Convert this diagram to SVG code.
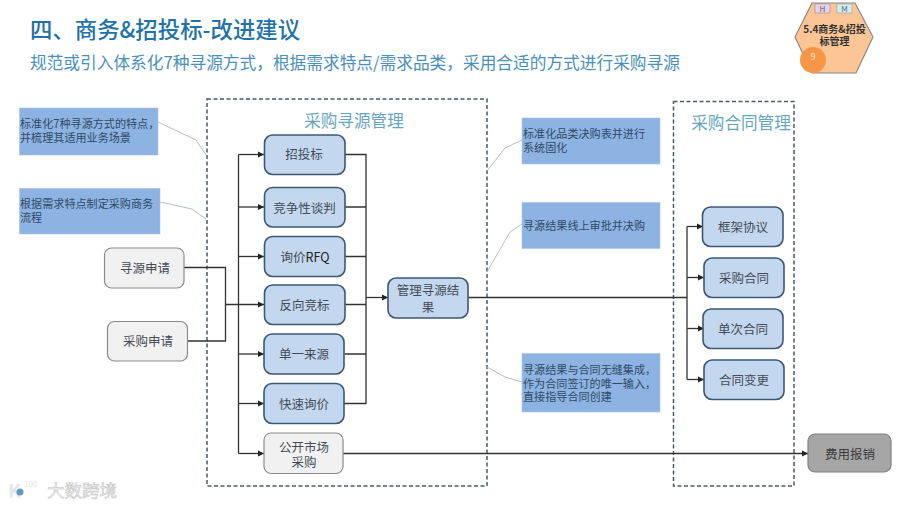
<svg xmlns="http://www.w3.org/2000/svg" width="900" height="507" viewBox="0 0 900 507">
<defs>
<marker id="arr" markerUnits="userSpaceOnUse" markerWidth="7" markerHeight="7" refX="6" refY="3.5" orient="auto"><path d="M0,0.5 L6,3.5 L0,6.5 Z" fill="#222"/></marker>
<style>
text{font-family:"Noto Sans CJK SC","Liberation Sans",sans-serif;}
.t{text-anchor:middle;dominant-baseline:central;font-size:12.5px;fill:#444c55;}
.blue rect{fill:#c3d7ee;stroke:#3e5874;stroke-width:1.6;}
.gray rect{fill:#f1f1f1;stroke:#8b8b8b;stroke-width:1.2;}
.note rect{fill:#8db3e2;stroke:#a8c4e6;stroke-width:.6;}
.note text{font-size:11.1px;fill:#2f4a66;}
.frame{fill:none;stroke:#4b5a68;stroke-width:1.5;stroke-dasharray:4 2.5;}
.head{font-size:16.6px;fill:#68a5bd;text-anchor:middle;dominant-baseline:central;}
.c{fill:none;stroke:#333;stroke-width:1.3;}
.a{marker-end:url(#arr);}
.l{fill:none;stroke:#b5c0c0;stroke-width:1;}
</style>
</defs>
<rect width="900" height="507" fill="#fff"/>
<text x="30" y="38" font-size="22.4" font-weight="500" fill="#2272a8">四、商务&amp;招投标-改进建议</text>
<text x="30" y="69" font-size="16.7" fill="#4a90b8">规范或引入体系化7种寻源方式&#xFF0C;根据需求特点/需求品类&#xFF0C;采用合适的方式进行采购寻源</text>

<g id="frame-sourcing"><rect class="frame" x="207" y="99" width="280" height="387"/><text class="head" x="354" y="120">采购寻源管理</text></g>
<g id="frame-contract"><rect class="frame" x="673.5" y="101.5" width="120.5" height="384.5"/><text class="head" x="741" y="121.5">采购合同管理</text></g>

<g id="connectors">
<path class="l" d="M158,122 L196,140 L206,155"/>
<path class="l" d="M160,202 L192,209 L206,219"/>
<path class="l" d="M522,140 L505,148 L487,171"/>
<path class="l" d="M522,224 L510,232 L487,272"/>
<path class="l" d="M487,367 L505,377 L522,382"/>
<path class="c" d="M184,267.5 H225.5 V341 H187.5"/>
<path class="c a" d="M225.5,304.5 H264"/>
<path class="c" d="M238.5,154.5 V453.5"/>
<path class="c a" d="M238.5,154.5 H264"/>
<path class="c a" d="M238.5,207 H264"/>
<path class="c a" d="M238.5,256.5 H264"/>
<path class="c a" d="M238.5,354 H264"/>
<path class="c a" d="M238.5,403.5 H264"/>
<path class="c a" d="M238.5,453.5 H264"/>
<path class="c" d="M345,154.5 H366 V403.5 H344"/>
<path class="c" d="M345,207 H366 M345,256.5 H366 M345,304.5 H366 M345,354 H366"/>
<path class="c a" d="M366,297.5 H388"/>
<path class="c" d="M468,297.5 H687" stroke-width="1.6"/>
<path class="c" d="M687,226.5 V379.5"/>
<path class="c a" d="M687,226.5 H703"/>
<path class="c a" d="M687,277.5 H704"/>
<path class="c a" d="M687,328.5 H704"/>
<path class="c a" d="M687,379.5 H704"/>
<path class="c a" d="M343,453.5 H808"/>
</g>

<g id="note-1" class="note"><rect x="19.5" y="108" width="138.5" height="47"/><text x="20" y="128">标准化7种寻源方式的特点&#xFF0C;<tspan x="20" dy="14">并梳理其适用业务场景</tspan></text></g>
<g id="note-2" class="note"><rect x="19.5" y="188.5" width="140.5" height="45.5"/><text x="20" y="208">根据需求特点制定采购商务<tspan x="20" dy="13.5">流程</tspan></text></g>
<g id="note-3" class="note"><rect x="522" y="118" width="138" height="46"/><text x="523" y="138">标准化品类决购表并进行<tspan x="523" dy="14">系统固化</tspan></text></g>
<g id="note-4" class="note"><rect x="522" y="202.5" width="138" height="46"/><text x="523" y="230">寻源结果线上审批并决购</text></g>
<g id="note-5" class="note"><rect x="522" y="353.5" width="138" height="58.5"/><text x="523" y="374">寻源结果与合同无缝集成&#xFF0C;<tspan x="523" dy="13.5">作为合同签订的唯一输入&#xFF0C;</tspan><tspan x="523" dy="13.5">直接指导合同创建</tspan></text></g>

<g id="n-xunyuan" class="gray"><rect x="104.5" y="248" width="79.5" height="40" rx="7"/><text class="t" x="145" y="267">寻源申请</text></g>
<g id="n-caigou" class="gray"><rect x="107.5" y="321.5" width="80" height="39.5" rx="7"/><text class="t" x="148" y="340.5">采购申请</text></g>

<g id="n-zhaotoubiao" class="blue"><rect x="264.5" y="135" width="80.5" height="39.5" rx="8"/><text class="t" x="304" y="153.5">招投标</text></g>
<g id="n-jingzheng" class="blue"><rect x="264.5" y="187.5" width="80.5" height="39.5" rx="8"/><text class="t" x="304.5" y="207">竞争性谈判</text></g>
<g id="n-xunjia" class="blue"><rect x="264.5" y="236.5" width="80.5" height="40" rx="8"/><text class="t" x="305" y="256">询价<tspan style="fill:#222">RFQ</tspan></text></g>
<g id="n-fanxiang" class="blue"><rect x="264.5" y="285" width="80.5" height="39.5" rx="8"/><text class="t" x="304.5" y="304">反向竞标</text></g>
<g id="n-danyi" class="blue"><rect x="264" y="334" width="80" height="40" rx="8"/><text class="t" x="304" y="353.5">单一来源</text></g>
<g id="n-kuaisu" class="blue"><rect x="264" y="383.5" width="80" height="40" rx="8"/><text class="t" x="304" y="403">快速询价</text></g>
<g id="n-gongkai" class="gray"><rect x="264" y="433" width="79" height="40.5" rx="7"/><text class="t" x="304" y="446">公开市场<tspan x="304" dy="15">采购</tspan></text></g>
<g id="n-guanli" class="blue"><rect x="388" y="278" width="80" height="40" rx="8"/><text class="t" x="428" y="289.5">管理寻源结<tspan x="428" dy="16">果</tspan></text></g>

<g id="n-kuangjia" class="blue"><rect x="702.5" y="207" width="80.5" height="39.5" rx="8"/><text class="t" x="743" y="226">框架协议</text></g>
<g id="n-caigouhetong" class="blue"><rect x="704" y="258" width="80" height="39.5" rx="8"/><text class="t" x="744" y="277">采购合同</text></g>
<g id="n-danci" class="blue"><rect x="703" y="309" width="80" height="39.5" rx="8"/><text class="t" x="743" y="328">单次合同</text></g>
<g id="n-biangeng" class="blue"><rect x="704" y="360" width="80" height="39.5" rx="8"/><text class="t" x="744" y="379">合同变更</text></g>
<g id="n-baoxiao"><rect x="808" y="434" width="83" height="38" rx="7" fill="#a6a6a6" stroke="#808080" stroke-width="1.2"/><text class="t" x="850" y="453" style="fill:#3a3a3a">费用报销</text></g>

<g id="badge">
<path d="M795,37 L812,3 L855,3 L873,37 L856,73 L812,73 Z" fill="#fbc596" stroke="#8a8a80" stroke-width="1.2"/>
<rect x="815" y="4" width="15" height="9" fill="#e5d5e8" stroke="#a090a8" stroke-width=".7"/>
<text x="822.5" y="8.5" font-size="8" fill="#705080" text-anchor="middle" dominant-baseline="central">H</text>
<rect x="837" y="4" width="15" height="9" fill="#d8ebee" stroke="#90a8ae" stroke-width=".7"/>
<text x="844.5" y="8.5" font-size="8" fill="#507078" text-anchor="middle" dominant-baseline="central">M</text>
<text x="834.5" y="28.5" font-size="10" font-weight="700" fill="#333" text-anchor="middle" dominant-baseline="central">5.4商务&amp;招投<tspan x="834.5" dy="11.5">标管理</tspan></text>
<circle cx="813" cy="60" r="13" fill="#f79646"/>
<text x="813" y="56" font-size="9" fill="#fbe3cf" text-anchor="middle" dominant-baseline="central">9</text>
</g>

<g id="watermark">
<text x="8" y="498" font-size="19" font-weight="700" fill="#e4e7ea">K</text>
<circle cx="20" cy="492" r="3.5" fill="#5d9bc4"/>
<text x="24" y="487" font-size="8" fill="#e2e5e8">100</text>
<text x="47" y="497" font-size="17.5" fill="#f2f2f2" stroke="#c0c0c0" stroke-width=".5">大数跨境</text>
</g>
</svg>
